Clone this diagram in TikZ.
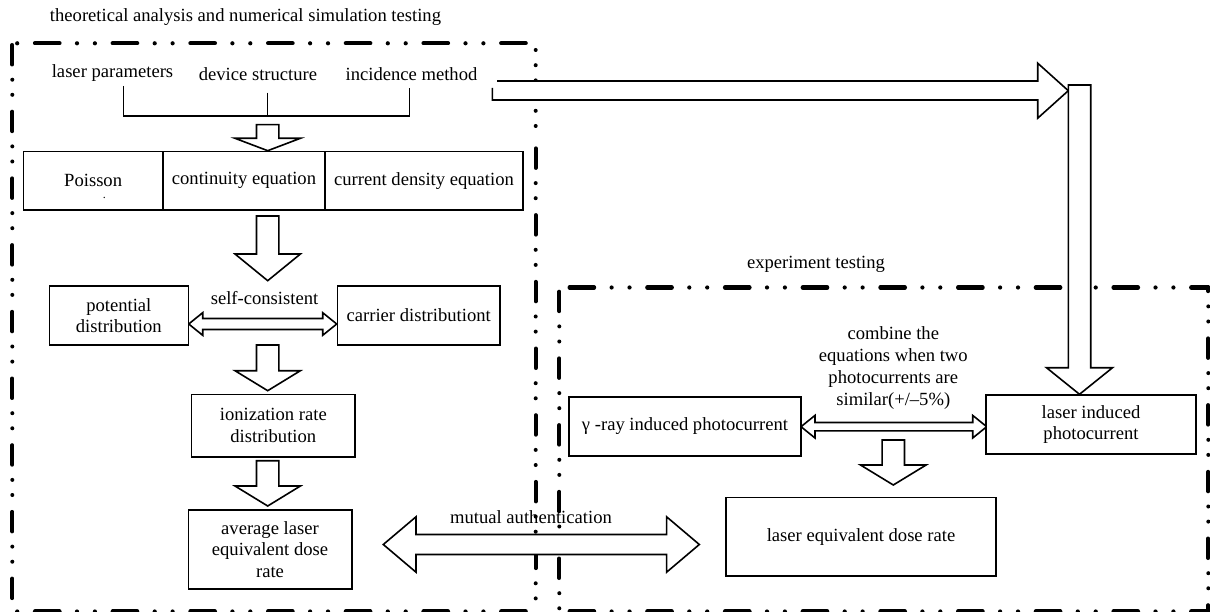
\documentclass[tikz,border=0pt]{standalone}
\usepackage{fontspec}
\setmainfont{Liberation Serif}
\usetikzlibrary{calc}
\newcommand\fs{\fontsize{18.6pt}{21.7pt}\selectfont}
% block arrow pointing down: #1 top, #2 tip, #3 shaft half, #4 head half, #5 head length
\newcommand\downblk[5]{%
  \path[blk] let \p1=(#1), \p2=(#2) in
   (\x1-#3pt,\y1) -- (\x1+#3pt,\y1) -- (\x1+#3pt,\y2+#5pt) -- (\x1+#4pt,\y2+#5pt)
   -- (\x2,\y2) -- (\x1-#4pt,\y2+#5pt) -- (\x1-#3pt,\y2+#5pt) -- cycle;}
% double block arrow: #1 left tip, #2 right tip
\newcommand\dblblk[5]{%
  \path[blk] let \p1=(#1), \p2=(#2) in
   (\x1,\y1) -- (\x1+#5pt,\y1+#4pt) -- (\x1+#5pt,\y1+#3pt) -- (\x2-#5pt,\y1+#3pt)
   -- (\x2-#5pt,\y1+#4pt) -- (\x2,\y1) -- (\x2-#5pt,\y1-#4pt) -- (\x2-#5pt,\y1-#3pt)
   -- (\x1+#5pt,\y1-#3pt) -- (\x1+#5pt,\y1-#4pt) -- cycle;}
% block arrow pointing right, open tail
\newcommand\rightblk[5]{%
  \path[blk] let \p1=(#1), \p2=(#2) in
   (\x1+4.7pt,\y1+#3pt) -- (\x2-#5pt,\y1+#3pt) -- (\x2-#5pt,\y2+#4pt) -- (\x2,\y2)
   -- (\x2-#5pt,\y2-#4pt) -- (\x2-#5pt,\y1-#3pt) -- (\x1,\y1-#3pt) -- (\x1,\y1+2.5pt);}
\begin{document}
\begin{tikzpicture}[x=1pt,y=-1pt,font=\fs,
  box/.style={draw,line width=1.6pt,fill=white,inner sep=0pt,align=center},
  blk/.style={draw,line width=1.6pt,fill=white,line join=miter},
  lbl/.style={inner sep=0pt,anchor=base},
  hdash/.style={line width=4.2pt,line cap=round,dash pattern=on 24.5pt off 17.5pt on 0pt off 17.9pt on 0pt off 17.8pt},
  vdash/.style={line width=4pt,line cap=round,dash pattern=on 19.5pt off 15.2pt on 0pt off 15.1pt on 0pt off 16.9pt},
  dotline/.style={line width=4pt,line cap=round,dash pattern=on 0pt off 15.2pt}]
\useasboundingbox (0,0) rectangle (1210,612);

% dashed frames
\draw[hdash,dash phase=55pt] (12.3,43.3) -- (535.7,43.3);
\draw[vdash,dash phase=65pt] (12.3,43.3) -- (12.3,611.5);
\draw[dotline] (535.7,50) -- (535.7,132);
\draw[vdash,dash phase=58.3pt] (535.7,140) -- (535.7,611.5);
\draw[hdash,dash phase=55pt] (12.3,611.5) -- (535.7,611.5);
\draw[hdash,dash phase=67.4pt] (559.3,287.5) -- (1208.3,287.5);
\draw[vdash,dash phase=62.5pt] (559.3,287.5) -- (559.3,611.5);
\draw[vdash,dash phase=15.8pt] (1208.3,287.5) -- (1208.3,611.5);
\draw[hdash,dash phase=67.4pt] (559.3,611.5) -- (1208.3,611.5);

% titles
\node[lbl] (ttl) at (245.5,21.7) {theoretical analysis and numerical simulation testing};
\node[lbl] (exp) at (816,268.3) {experiment testing};

% inputs
\node[lbl] (lp) at (112.5,78) {laser parameters};
\node[lbl] (ds) at (258,81) {device structure};
\node[lbl] (im) at (411.5,81) {incidence method};
\coordinate (b1) at (123.3,86);
\coordinate (b2) at (267.7,92.7);
\coordinate (b3) at (409.3,87.7);
\coordinate (bj) at (267.7,116);
\draw[line width=1.4pt] (b1) |- (bj) -| (b3);
\draw[line width=1.4pt] (b2) -- (bj);

% arrow coordinates
\coordinate (a1s) at (267.7,124.7); \coordinate (a1t) at (267.7,150.7);
\coordinate (a2s) at (267.7,216);   \coordinate (a2t) at (267.7,280.7);
\coordinate (a3s) at (267.7,345);   \coordinate (a3t) at (267.7,390.7);
\coordinate (a4s) at (267.7,460.7); \coordinate (a4t) at (267.7,506);
\coordinate (a5s) at (893.3,440);   \coordinate (a5t) at (893.3,485);
\coordinate (bars) at (1079.5,85);  \coordinate (bart) at (1079.5,394.3);
\coordinate (ras) at (492.3,90.5);  \coordinate (rat) at (1068.3,90.7);
\coordinate (sc1) at (188.7,324);   \coordinate (sc2) at (336.7,324);
\coordinate (cb1) at (801,426.7);   \coordinate (cb2) at (986.7,426.7);
\coordinate (mu1) at (383.3,544.5); \coordinate (mu2) at (699.3,544.5);

% block arrows
\downblk{a1s}{a1t}{11.2}{32.7}{12.4}
\downblk{a2s}{a2t}{11.2}{32.7}{26.7}
\downblk{a3s}{a3t}{11.2}{32.7}{20}
\downblk{a4s}{a4t}{11.2}{32.7}{20}
\downblk{a5s}{a5t}{11.2}{32.8}{20}
\rightblk{ras}{rat}{9.5}{27.5}{30.6}
\downblk{bars}{bart}{11.2}{33}{26.6}
\dblblk{sc1}{sc2}{5.5}{11.3}{14}
\dblblk{cb1}{cb2}{4.2}{11.3}{14}
\dblblk{mu1}{mu2}{10}{27.7}{32.7}

% boxes
\node[box,minimum width=139.7pt,minimum height=58.3pt] (poi) at (93.15,180.85) {Poisson};
\node[box,minimum width=162pt,minimum height=58.3pt] (con) at (244,180.85) {continuity equation};
\node[box,minimum width=198pt,minimum height=58.3pt] (cur) at (424,180.85) {current density equation};
\node[lbl,font=\fontsize{12pt}{12pt}\selectfont] (dot) at (104.3,199) {.};
\node[box,minimum width=139pt,minimum height=59pt] (pot) at (118.8,315.5) {potential\\distribution};
\node[box,minimum width=162.7pt,minimum height=59pt] (car) at (418.7,315.5) {carrier distributiont};
\node[box,minimum width=163.3pt,minimum height=62.4pt] (ion) at (273.3,425.5) {ionization rate\\distribution};
\node[box,minimum width=163.4pt,minimum height=79pt] (avg) at (270,549.5) {average laser\\equivalent dose\\rate};
\node[box,minimum width=232pt,minimum height=59pt] (gam) at (685,426.2) {γ -ray induced photocurrent};
\node[box,minimum width=210pt,minimum height=59pt] (lin) at (1091,424.5) {laser induced\\photocurrent};
\node[box,minimum width=270pt,minimum height=78.3pt] (led) at (861,536.8) {laser equivalent dose rate};

% arrow labels
\node[lbl] (scl) at (264.5,305) {self-consistent};
\node[lbl] (mal) at (531,523.3) {mutual authentication};
\node[inner sep=0pt,align=center] (cbl) at (893.3,368) {combine the\\equations when two\\photocurrents are\\similar(+/–5\%)};
\end{tikzpicture}
\end{document}
